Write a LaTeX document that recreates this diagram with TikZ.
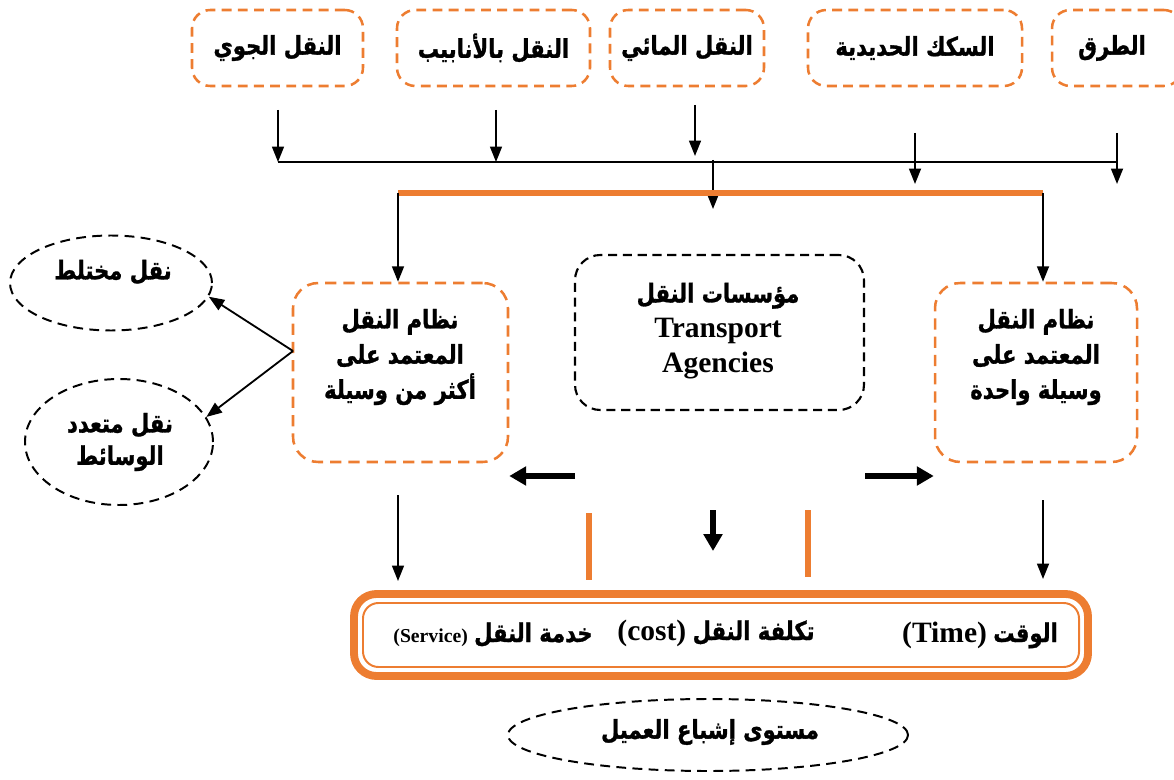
\documentclass[tikz,border=0pt]{standalone}
\usepackage{fontspec}
\usetikzlibrary{arrows.meta,shapes.geometric,fit,calc}
\TeXXeTstate=1
\newfontfamily\arfont[Script=Arabic, BoldFeatures={FakeBold=1.2}]{DejaVu Sans}
\newfontfamily\enfont{Liberation Serif}
\newcommand\AR[1]{\scalebox{1}[1.22]{\arfont\bfseries\beginR #1\endR}}
\definecolor{orng}{HTML}{ED7D31}

\tikzset{
  obox/.style={draw=orng, line width=1.8pt, dash pattern=on 7pt off 4.5pt,
    rounded corners=13pt, inner sep=0pt},
  mbox/.style={obox, rounded corners=18pt, dash pattern=on 8pt off 5pt},
  kbox/.style={draw=black, line width=1.5pt, dash pattern=on 6.5pt off 4pt,
    rounded corners=18pt, inner sep=0pt},
  kell/.style={ellipse, draw=black, line width=1.4pt, dash pattern=on 7pt off 4.5pt,
    inner sep=0pt},
  arr/.style={-{Triangle[length=11pt,width=8.5pt]}, line width=1.3pt},
  fat/.style={-{Triangle[length=12pt,width=13pt]}, line width=4.2pt},
  obar/.style={orng, line width=3.6pt},
  txt/.style={font=\fontsize{15}{25}\selectfont, align=center, inner sep=0pt},
}

\begin{document}
\begin{tikzpicture}[x=0.025cm, y=-0.025cm]
\useasboundingbox (0,0) rectangle (1174,780);

% transport modes
\node[obox, fit={(192,10) (363,86)}] (air) {};
\node[obox, fit={(397,10) (590,86)}] (pipe) {};
\node[obox, fit={(610,10) (764,86)}] (water) {};
\node[obox, fit={(808,10) (1022,86)}] (rail) {};
\node[obox, fit={(1052,10) (1182,86)}] (road) {};
\node[txt] (airT) at (air.center) {\AR{النقل الجوي}};
\node[txt] (pipeT) at (pipe.center) {\AR{النقل بالأنابيب}};
\node[txt] (waterT) at (water.center) {\AR{النقل المائي}};
\node[txt] (railT) at (rail.center) {\AR{السكك الحديدية}};
\node[txt] (roadT) at (1112,48) {\AR{الطرق}};

% collecting line
\coordinate (hL) at (278,162);
\coordinate (hR) at (1117,162);
\draw[line width=1.3pt] (hL) -- (hR);
\coordinate (a1) at (278,110);
\coordinate (a2) at (496,110);
\coordinate (a3) at (695,105);  \coordinate (a3e) at (695,156);
\coordinate (a4) at (915,133);  \coordinate (a4e) at (915,184);
\coordinate (a5) at (1117,133); \coordinate (a5e) at (1117,184);
\draw[arr] (a1) -- (hL);
\draw[arr] (a2) -- (a2 |- hL);
\draw[arr] (a3) -- (a3e);
\draw[arr] (a4) -- (a4e);
\draw[arr] (a5) -- (a5e);
\coordinate (c1) at (713,160);
\coordinate (c1e) at (713,209);
\draw[arr] (c1) -- (c1e);

% distribution bar
\coordinate (oL) at (398,193);
\coordinate (oR) at (1043,193);
\draw[orng, line width=3.8pt] (oL) -- (oR);

% transport systems
\node[mbox, fit={(293,283) (508,462)}] (multi) {};
\node[mbox, fit={(935,283) (1137,462)}] (single) {};
\node[kbox, fit={(575,255) (864,410)}] (agency) {};
\node[txt] (multiT) at (400,357) {\AR{نظام النقل}\\\AR{المعتمد على}\\\AR{أكثر من وسيلة}};
\node[txt] (singleT) at (1036,357) {\AR{نظام النقل}\\\AR{المعتمد على}\\\AR{وسيلة واحدة}};
\node[txt] (agencyT) at (718,331) {\AR{مؤسسات النقل}\\{\enfont\bfseries\fontsize{21}{25}\selectfont Transport}\\{\enfont\bfseries\fontsize{21}{25}\selectfont Agencies}};

\draw[arr] (oL) -- (oL |- multi.north);
\draw[arr] (oR) -- (oR |- single.north);

% mixed and intermodal transport
\node[kell, minimum width=202*0.025cm, minimum height=95*0.025cm] (mix) at (111,283) {};
\node[kell, minimum width=188*0.025cm, minimum height=126*0.025cm] (inter) at (119,442) {};
\node[txt] (mixT) at (113,272) {\AR{نقل مختلط}};
\node[txt] (interT) at (120,442) {\AR{نقل متعدد}\\[-2pt]\AR{الوسائط}};
\coordinate (mo) at (293,351);
\draw[arr] (mo) -- (mix.-8);
\draw[arr] (mo) -- (inter.16);

% agency outputs
\coordinate (fl) at (575,476);
\coordinate (fr) at (865,476);
\coordinate (fd) at (713,510);
\draw[fat] (fl) -- (fl -| multi.east);
\draw[fat] (fr) -- (fr -| single.west);
\draw[fat] (fd) -- ++(0,41);
\coordinate (b1) at (589,513);
\coordinate (b2) at (808,510);
\draw[obar] (b1) -- ++(0,67);
\draw[obar] (b2) -- ++(0,67);

% service criteria
\node[draw=orng, line width=5.6pt, rounded corners=16pt, inner sep=0pt,
      fit={(354,594) (1088,676)}] (crit) {};
\node[draw=orng, line width=1.4pt, rounded corners=11pt, inner sep=0pt,
      fit={(363,603) (1079,667)}] (critIn) {};
\coordinate (d1) at (398,495);
\coordinate (d2) at (1043,500);
\draw[arr] (d1) -- (398,581);
\draw[arr] (d2) -- (1043,579);
\node[txt, anchor=base] (time) at (980,642) {{\enfont\bfseries\fontsize{21}{25}\selectfont(Time)} \AR{الوقت}};
\node[txt, anchor=base] (cost) at (716,640) {{\enfont\bfseries\fontsize{21}{25}\selectfont(cost)} \AR{تكلفة النقل}};
\node[txt, anchor=base] (serv) at (493,642) {{\enfont\bfseries\fontsize{14}{16}\selectfont(Service)} \AR{خدمة النقل}};

% customer satisfaction
\node[kell, minimum width=400*0.025cm, minimum height=72*0.025cm] (sat) at (708,735) {};
\node[txt] (satT) at (710,732) {\AR{مستوى إشباع العميل}};
\end{tikzpicture}
\end{document}
